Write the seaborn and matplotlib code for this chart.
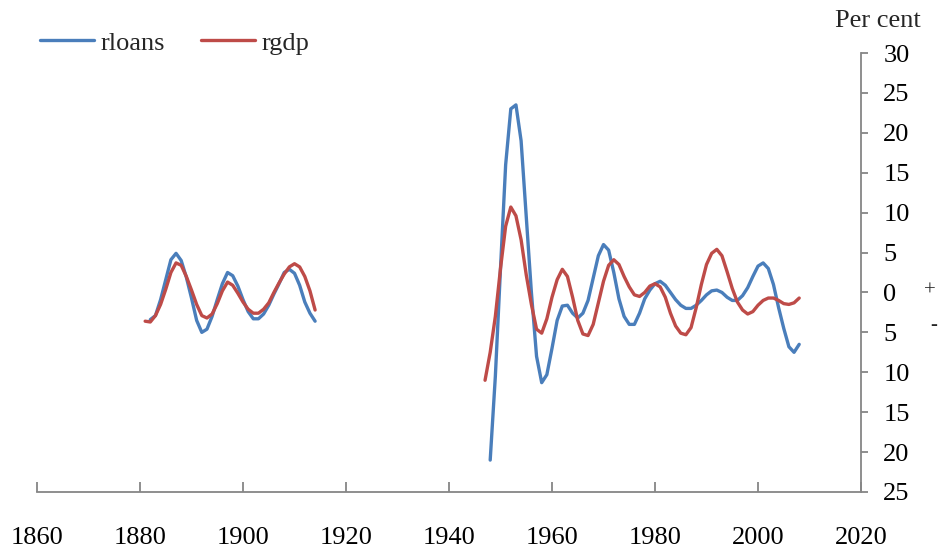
import matplotlib
matplotlib.use("Agg")
import matplotlib.pyplot as plt
from matplotlib.lines import Line2D
import pandas as pd
import seaborn as sns

# values (per cent, annual)
years_gdp_pre = list(range(1881, 1915))
rgdp_pre = [-3.6, -3.7, -2.9, -1.5, 0.4, 2.5, 3.7, 3.4, 2.0, 0.3,
            -1.5, -2.9, -3.2, -2.7, -1.4, 0.2, 1.3, 0.9, -0.1, -1.2,
            -2.1, -2.6, -2.6, -2.1, -1.3, 0.0, 1.2, 2.3, 3.2, 3.6,
            3.2, 2.0, 0.2, -2.2]

years_loans_pre = list(range(1882, 1915))
rloans_pre = [-3.4, -2.9, -0.9, 1.6, 4.1, 4.9, 4.0, 1.9, -0.7, -3.5,
              -5.0, -4.6, -3.0, -0.9, 1.1, 2.5, 2.1, 0.8, -0.9, -2.4,
              -3.3, -3.3, -2.7, -1.6, -0.2, 1.1, 2.5, 2.9, 2.4, 0.9,
              -1.2, -2.6, -3.6]

years_gdp_post = list(range(1947, 2009))
rgdp_post = [-11.0, -7.5, -3.0, 3.0, 8.3, 10.7, 9.6, 6.6, 2.2, -1.5,
             -4.6, -5.1, -3.3, -0.6, 1.6, 2.9, 2.0, -0.6, -3.5, -5.2,
             -5.4, -4.0, -1.3, 1.4, 3.4, 4.1, 3.5, 2.0, 0.7, -0.3,
             -0.5, 0.0, 0.8, 1.1, 0.7, -0.6, -2.6, -4.2, -5.1, -5.3,
             -4.4, -1.9, 1.0, 3.5, 4.9, 5.4, 4.6, 2.6, 0.5, -1.2,
             -2.2, -2.7, -2.4, -1.6, -1.0, -0.7, -0.7, -1.0, -1.4, -1.5,
             -1.3, -0.7]

years_loans_post = list(range(1948, 2009))
rloans_post = [-21.0, -10.5, 3.0, 16.0, 23.0, 23.5, 19.0, 9.5, 0.0, -8.0,
               -11.3, -10.3, -7.0, -3.5, -1.7, -1.6, -2.6, -3.2, -2.6, -1.0,
               1.8, 4.6, 6.0, 5.3, 2.5, -0.8, -3.0, -4.0, -4.0, -2.6,
               -0.8, 0.3, 1.1, 1.4, 0.9, 0.0, -0.9, -1.6, -2.0, -2.0,
               -1.6, -1.0, -0.3, 0.2, 0.3, 0.0, -0.6, -1.0, -1.0, -0.4,
               0.6, 2.0, 3.3, 3.7, 3.0, 1.0, -1.9, -4.5, -6.8, -7.5,
               -6.5]

series_names = ["rloans", "rgdp"]
colors = {"rloans": "#4A7EBB", "rgdp": "#BE4B48"}
x_ticks = list(range(1860, 2021, 20))
y_ticks = list(range(-25, 31, 5))

parts = [
    ("rgdp", "pre", years_gdp_pre, rgdp_pre),
    ("rloans", "pre", years_loans_pre, rloans_pre),
    ("rgdp", "post", years_gdp_post, rgdp_post),
    ("rloans", "post", years_loans_post, rloans_post),
]
df = pd.concat([
    pd.DataFrame({"year": yrs, "value": vals, "series": name, "segment": seg})
    for name, seg, yrs, vals in parts
], ignore_index=True)

sns.set_theme(style="white")
plt.rcParams["font.family"] = ["Liberation Serif", "DejaVu Serif"]

fig = plt.figure(figsize=(9.42, 5.57), dpi=100)
ax = fig.add_axes([37 / 942, 1 - 492 / 557, (861 - 37) / 942, 439 / 557])

sns.lineplot(data=df, x="year", y="value", hue="series", units="segment",
             estimator=None, hue_order=series_names, palette=colors,
             linewidth=2.4, legend=False, ax=ax)

ax.set_xlim(1860, 2020)
ax.set_ylim(-25, 30)
ax.set_xticks(x_ticks)
ax.set_yticks(y_ticks)
ax.set_yticklabels([str(abs(v)) for v in y_ticks])
ax.set_xlabel("")
ax.set_ylabel("")

ax.yaxis.tick_right()
for side in ["left", "top"]:
    ax.spines[side].set_visible(False)
for side in ["bottom", "right"]:
    ax.spines[side].set_color("#868686")
    ax.spines[side].set_linewidth(1.3)

ax.tick_params(axis="x", bottom=True, direction="in", length=7, width=1.3,
               color="#868686", pad=25, labelsize=19, labelcolor="black")
ax.tick_params(axis="y", right=True, left=False, direction="out", length=5,
               width=1.3, color="#868686", pad=11, labelsize=19, labelcolor="black")

fig.text(878 / 942, 1 - 21 / 557, "Per cent", ha="center", va="center", fontsize=19)
fig.text(930 / 942, 1 - 291 / 557, "+", ha="center", va="center", fontsize=15)
fig.text(934 / 942, 1 - 326 / 557, "-", ha="center", va="center", fontsize=15)

handles = [Line2D([], [], color=colors[n], linewidth=2.4) for n in series_names]
ax.legend(handles, series_names, loc="center left", ncol=2, frameon=False,
          bbox_to_anchor=(40 / 942, 1 - 43 / 557), bbox_transform=fig.transFigure,
          borderaxespad=0, borderpad=0, fontsize=19, handlelength=2.05,
          handletextpad=0.25, columnspacing=1.35)

fig.savefig("out.png", dpi=100)
